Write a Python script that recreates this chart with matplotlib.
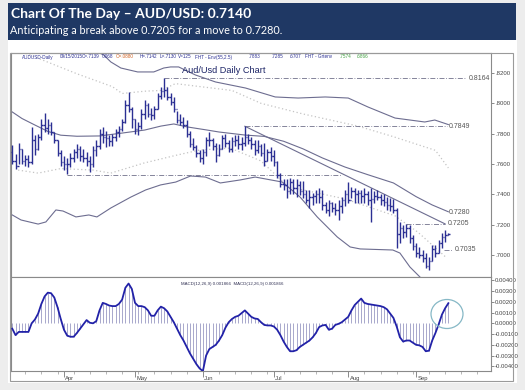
import matplotlib
matplotlib.use("Agg")
import matplotlib.pyplot as plt
from matplotlib.collections import LineCollection
from matplotlib.patches import Rectangle, Ellipse
import numpy as np

W, H = 525, 390
fig = plt.figure(figsize=(W / 100, H / 100), dpi=100)
fig.patch.set_facecolor("#ededed")

def fx(x):
    return x / W

def fy(y):
    return 1 - y / H

# ---------------- data ----------------
highs = [.7725, .7665, .7738, .7700, .7660, .7660, .7845, .7790, .7800, .7900,
         .7936, .7900, .7880, .7810, .7760, .7690, .7650, .7640, .7670, .7700,
         .7730, .7720, .7700, .7680, .7650, .7720, .7760, .7830, .7845, .7820,
         .7790, .7800, .7830, .7850, .7900, .8020, .8075, .7975, .7900, .7880,
         .7960, .8020, .8000, .7970, .7980, .8070, .8110, .8164, .8110, .8070,
         .8040, .7950, .7930, .7910, .7890, .7820, .7770, .7725, .7690, .7700,
         .7780, .7810, .7770, .7740, .7730, .7790, .7800, .7760, .7780, .7790,
         .7790, .7780, .7849, .7800, .7780, .7760, .7760, .7730, .7740, .7700,
         .7710, .7690, .7620, .7540, .7500, .7500, .7510, .7500, .7500, .7485,
         .7485, .7430, .7430, .7410, .7430, .7440, .7430, .7350, .7365, .7350,
         .7340, .7365, .7385, .7430, .7480, .7450, .7440, .7430, .7430, .7440,
         .7420, .7440, .7420, .7430, .7400, .7400, .7385, .7375, .7370, .7308,
         .7220, .7200, .7205, .7198, .7132, .7077, .7055, .7033, .7011, .6990,
         .7066, .7066, .7100, .7145, .7165, .7142]
lows = [.7600, .7565, .7600, .7600, .7590, .7580, .7600, .7660, .7690, .7760,
        .7810, .7800, .7790, .7740, .7650, .7590, .7560, .7533, .7580, .7610,
        .7640, .7620, .7610, .7590, .7550, .7580, .7650, .7700, .7740, .7710,
        .7720, .7720, .7750, .7780, .7820, .7870, .7940, .7840, .7800, .7790,
        .7830, .7900, .7910, .7890, .7900, .7960, .8030, .8040, .8020, .7990,
        .7940, .7870, .7860, .7840, .7780, .7710, .7690, .7646, .7610, .7600,
        .7650, .7720, .7690, .7610, .7650, .7700, .7710, .7680, .7680, .7720,
        .7700, .7690, .7720, .7730, .7700, .7660, .7670, .7650, .7590, .7620,
        .7620, .7590, .7510, .7450, .7430, .7375, .7405, .7405, .7385, .7395,
        .7375, .7340, .7310, .7330, .7340, .7340, .7300, .7275, .7255, .7285,
        .7265, .7230, .7275, .7320, .7340, .7375, .7340, .7340, .7340, .7340,
        .7330, .7220, .7340, .7360, .7330, .7320, .7300, .7290, .7280, .7044,
        .7077, .7110, .7120, .7077, .7033, .6989, .6978, .6956, .6912, .6901,
        .6960, .6990, .7010, .7044, .7088, .7130]
closes = [.7620, .7590, .7700, .7620, .7630, .7610, .7760, .7700, .7780, .7860,
          .7840, .7860, .7810, .7760, .7670, .7610, .7600, .7600, .7640, .7680,
          .7700, .7650, .7640, .7620, .7600, .7690, .7720, .7800, .7780, .7770,
          .7750, .7780, .7810, .7830, .7880, .7990, .7960, .7900, .7830, .7850,
          .7930, .7990, .7930, .7920, .7960, .8050, .8080, .8090, .8040, .8010,
          .7960, .7890, .7880, .7860, .7800, .7730, .7710, .7670, .7640, .7680,
          .7760, .7760, .7720, .7660, .7700, .7770, .7740, .7700, .7750, .7760,
          .7730, .7740, .7780, .7760, .7730, .7690, .7720, .7670, .7620, .7680,
          .7650, .7610, .7530, .7470, .7460, .7420, .7480, .7440, .7460, .7420,
          .7400, .7360, .7380, .7390, .7400, .7380, .7330, .7300, .7340, .7310,
          .7300, .7320, .7360, .7400, .7360, .7420, .7400, .7410, .7390, .7400,
          .7360, .7370, .7390, .7380, .7360, .7350, .7330, .7320, .7300, .7140,
          .7180, .7150, .7180, .7110, .7060, .7010, .7000, .6980, .6930, .6960,
          .7040, .7010, .7080, .7120, .7130, .7139]
first_open = .7680

macd = [-0.50, -1.10, -0.80, -0.80, -0.80, -0.80, 0.00, 0.35, 0.90, 1.80,
        2.50, 2.85, 2.80, 2.40, 1.50, 0.40, -0.60, -1.15, -1.25, -1.25,
        -0.90, -0.50, -0.10, 0.30, 0.05, 0.00, 0.20, 1.20, 1.90, 1.80,
        1.65, 1.60, 1.60, 1.80, 2.20, 3.30, 3.70, 3.20, 1.90, 1.60,
        1.60, 1.50, 1.20, 0.70, 0.70, 1.20, 1.55, 1.40, 1.10, 0.60,
        0.10, -0.50, -1.10, -1.60, -2.20, -2.80, -3.30, -3.80, -4.20, -4.45,
        -3.00, -2.40, -2.20, -2.00, -1.60, -1.10, -0.40, 0.10, 0.40, 0.60,
        0.70, 0.95, 1.20, 0.90, 0.60, 0.45, 0.40, 0.10, -0.15, -0.20,
        -0.20, -0.30, -0.60, -1.10, -1.70, -2.20, -2.60, -2.60, -2.50, -2.20,
        -2.00, -1.80, -1.60, -1.30, -0.90, -0.35, -0.20, -0.15, -0.60, -0.50,
        -0.15, -0.05, 0.10, 0.35, 0.60, 1.20, 1.70, 2.00, 2.30, 1.90,
        1.80, 1.75, 1.70, 1.65, 1.60, 1.50, 1.30, 0.90, 0.50, -0.30,
        -1.30, -1.70, -1.60, -1.60, -1.80, -2.00, -2.05, -2.20, -2.60, -2.55,
        -1.60, -0.90, -0.10, 0.80, 1.40, 1.87]  # x 1e-3

# envelope lines: (bar index, price)
sma_pts = [(0, .7943), (3, .7900), (7, .7857), (11, .7815), (15, .7790), (20, .7783),
           (27, .7785), (34, .7804), (41, .7824), (46, .7850), (50, .7864), (54, .7845),
           (60, .7825), (64, .7811), (72, .7791), (78, .7782), (84, .7750), (90, .7700),
           (96, .7640), (103, .7580), (110, .7530), (118, .7475), (125, .7385), (130, .7330),
           (135, .7285)]
upper_pts = [(18, .8450), (24, .8360), (28.3, .8319), (30.5, .8273), (33.6, .8233),
             (38.8, .8207), (43.8, .8207), (46.9, .8233), (49, .8240), (51.5, .8240),
             (56.7, .8187), (62.9, .8141), (72.2, .8101), (81.4, .8042), (88.5, .8035),
             (96.9, .8042), (104, .8035), (110.1, .7976), (118.5, .7903), (127.7, .7877),
             (130.8, .7890), (135, .7860)]
lower_pts = [(0, .7264), (2.7, .7231), (8, .7204), (10.4, .7218), (13.5, .7297),
             (15.7, .7290), (19.7, .7251), (23.7, .7264), (26.2, .7251), (30.5, .7310),
             (36.7, .7382), (41.3, .7429), (45.9, .7462), (50.6, .7481), (55.2, .7521),
             (59.8, .7514), (64.4, .7475), (70.6, .7495), (75.2, .7514), (83.6, .7481),
             (89.1, .7382), (94.4, .7251), (100.6, .7119), (104.6, .7053), (107.7, .7040),
             (117.8, .7033), (120, .7013), (123.1, .6921), (126.2, .6855), (130.8, .6769),
             (135, .6707)]
dot_up_pts = [(1, .8360), (3, .8340), (10, .8280), (20, .8195), (31, .8110), (34, .8065),
              (41, .8080), (46, .8085), (50.5, .8130), (68, .8085), (77, .8000),
              (90, .7930), (107, .7850), (118, .7780), (131, .7690), (135, .7574)]
dot_lo_pts = [(1.8, .7560), (8, .7540), (15, .7570), (25, .7560), (30.5, .7540),
              (40.7, .7606), (51, .7659), (58, .7692), (67.5, .7705), (77, .7620),
              (85.4, .7450), (103, .7370), (118.5, .7258), (125.6, .7150), (134, .6990)]

trend_pts = [(72, .7849), (134, .7205)]
levels = [  # (price, start index, end index, label)
    (.8164, 47, 140.5, "0.8164"),
    (.7849, 72, 134.5, "0.7849"),
    (.7530, 17, 102, None),
    (.7205, 122, 134, "0.7205"),
    (.7035, 133.8, 136.3, "0.7035"),
]
target_label = (.7280, "0.7280")

month_names = ["Apr", "May", "Jun", "Jul", "Aug", "Sep"]
month_idx = [16, 38, 59, 81, 104, 125]
price_ticks = [.70, .72, .74, .76, .78, .80, .82]
macd_ticks = [0.004, 0.003, 0.002, 0.001, 0.0, -0.001, -0.002, -0.003, -0.004]

# ---------------- page layout ----------------
fig.add_artist(Rectangle((fx(8), fy(383)), fx(509), 343 / H, transform=fig.transFigure,
                         facecolor="white", edgecolor="none", zorder=0))
fig.add_artist(Rectangle((fx(8), fy(40)), fx(508), 37 / H, transform=fig.transFigure,
                         facecolor="#1f3864", edgecolor="none", zorder=1))
fig.text(fx(11), fy(14), "Chart Of The Day \u2013 AUD/USD: 0.7140", color="white",
         fontsize=10, fontweight="bold", family="Lato", va="center", ha="left")
fig.text(fx(10), fy(31), "Anticipating a break above 0.7205 for a move to 0.7280.",
         color="white", fontsize=7.8, family="Lato", va="center", ha="left")
# outer chart frame
fig.add_artist(Rectangle((fx(10), fy(381)), fx(503), 328 / H, transform=fig.transFigure,
                         facecolor="none", edgecolor="#9a9a9a", lw=0.8, zorder=5))

# ---------------- price panel ----------------
X0, X1 = -0.4, 148.2
ax = fig.add_axes([fx(11), fy(277), fx(480), 224 / H])
ax.set_xlim(X0, X1)
ax.set_ylim(.68550, .83319)
ax.set_facecolor("white")
for s in ax.spines.values():
    s.set_color("#8a8a8a")
    s.set_linewidth(0.8)

n = len(highs)
idx = np.arange(n)
opens = [first_open] + closes[:-1]
bar_col = "#2b2f93"
segs = [[(i, lows[i]), (i, highs[i])] for i in range(n)]
segs += [[(i - 0.45, opens[i]), (i, opens[i])] for i in range(n)]
segs += [[(i, closes[i]), (i + 0.45, closes[i])] for i in range(n)]
ax.add_collection(LineCollection(segs, colors=bar_col, linewidths=1.0, zorder=4))

line_col = "#6d6d90"
for pts in (sma_pts, upper_pts, lower_pts):
    xs, ys = zip(*pts)
    ax.plot(xs, ys, color=line_col, lw=0.8, zorder=3)
for pts in (dot_up_pts, dot_lo_pts):
    xs, ys = zip(*pts)
    ax.plot(xs, ys, color="#c4c4c4", lw=0.9, ls=(0, (1, 2)), zorder=2)
xs, ys = zip(*trend_pts)
ax.plot(xs, ys, color=line_col, lw=0.8, zorder=3)

for price, a, b, lab in levels:
    ax.plot([a, b], [price, price], color="#70708a", lw=0.6,
            ls=(0, (6, 2, 1, 2)), zorder=3)
    if lab:
        ax.text(b + 0.7, price, lab, fontsize=5, color="#555555",
                family="Liberation Sans", va="center", ha="left")
ax.text(134.5 + 0.7, target_label[0], target_label[1], fontsize=5, color="#555555",
        family="Liberation Sans", va="center", ha="left")

ax.text(0.444, 0.924, "Aud/Usd Daily Chart", transform=ax.transAxes, fontsize=6.6,
        color="#1c2466", family="Liberation Sans", va="center", ha="center")

# header info line
info = [(22, "AUDUSD-Daily", "#2b2f93"), (60, "09/15/2015", "#2b2f93"),
        (82, "C=.7139", "#2b2f93"), (102, ".0068", "#2b2f93"),
        (116, "O=.0880", "#d06020"), (140, "H=.7142", "#2b2f93"),
        (160, "L=.7130", "#2b2f93"), (178, "V=125", "#2b2f93"),
        (195, "FHT - Env(55,2.5)", "#2b2f93"), (249, ".7883", "#2b2f93"),
        (272, ".7285", "#2b2f93"), (290, ".6707", "#2b2f93"),
        (305, "FHT - Grtenv", "#2b2f93"), (340, ".7574", "#40a040"),
        (357, ".6866", "#40a040")]
for xp, t, c in info:
    fig.text(fx(xp), fy(57), t, fontsize=3.3, color=c, family="Liberation Sans",
             va="center", ha="left")

ax.yaxis.tick_right()
ax.set_yticks(price_ticks)
ax.set_yticklabels(["." + f"{t:.4f}".split(".")[1] for t in price_ticks])
ax.tick_params(axis="y", direction="out", length=2, width=0.6, color="#777777",
               labelsize=4.3, labelcolor="#444444", pad=1.5)
for lab in ax.get_yticklabels():
    lab.set_family("Liberation Sans")
ax.set_xticks([])

# ---------------- MACD panel ----------------
ax2 = fig.add_axes([fx(11), fy(371), fx(480), 94 / H])
ax2.set_xlim(X0, X1)
ax2.set_ylim(-0.004437, 0.004307)
ax2.set_facecolor("white")
for s in ax2.spines.values():
    s.set_color("#8a8a8a")
    s.set_linewidth(0.8)
mv = np.array(macd) * 1e-3
hsegs = [[(i, 0), (i, mv[i])] for i in range(n)]
ax2.add_collection(LineCollection(hsegs, colors="#9a9ac4", linewidths=0.6, zorder=2))
ax2.plot(idx, mv, color="#2222a8", lw=1.3, zorder=3)
ax2.text(0.355, 0.93, "MACD(12,26,9) 0.001866  MACD(12,26,9) 0.001866",
         transform=ax2.transAxes, fontsize=3.2, color="#333355",
         family="Liberation Sans", va="center", ha="left")

ax2.yaxis.tick_right()
ax2.set_yticks(macd_ticks)
ax2.set_yticklabels([f"{t:.5f}" for t in macd_ticks])
ax2.tick_params(axis="y", direction="out", length=2, width=0.6, color="#777777",
                labelsize=4.3, labelcolor="#444444", pad=1)
for lab in ax2.get_yticklabels():
    lab.set_family("Liberation Sans")
    lab.set_clip_on(False)

weekly = [i for i in range(0, n + 12) if (i + 1) % 5 == 0]
ax2.set_xticks(weekly, minor=True)
ax2.set_xticks(month_idx)
ax2.set_xticklabels([])
ax2.tick_params(axis="x", which="major", direction="out", length=4, width=0.6,
                color="#777777")
ax2.tick_params(axis="x", which="minor", direction="out", length=1.8, width=0.5,
                color="#999999")
for mi, mn in zip(month_idx, month_names):
    ax2.text(mi + 0.4, -0.05, mn, transform=ax2.get_xaxis_transform(), fontsize=4.2,
             color="#444444", family="Liberation Sans", va="top", ha="left")

fig.add_artist(Ellipse((fx(447), fy(314)), fx(32), 29 / H, transform=fig.transFigure,
                       facecolor="none", edgecolor="#86b8c6", lw=0.9, zorder=10))

fig.savefig("out.png", dpi=100, facecolor=fig.get_facecolor())
